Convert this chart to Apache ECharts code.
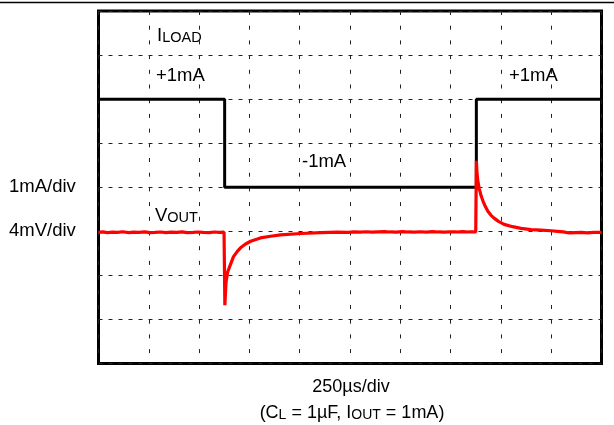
<!DOCTYPE html>
<html>
<head>
<meta charset="utf-8">
<script src="https://cdn.jsdelivr.net/npm/echarts@6/dist/echarts.min.js"></script>
<style>
html,body{margin:0;padding:0;background:#fff;}
#chart{width:614px;height:425px;}
</style>
</head>
<body>
<div id="chart"></div>
<script>
// Time base: 250 µs/div, 10 divisions
var xMin = 0, xMax = 2500, xStep = 250;
// I_LOAD channel: 1 mA/div
var iMin = -5, iMax = 3, iStep = 1;
// V_OUT channel: 4 mV/div (deviation from nominal)
var vMin = -12, vMax = 20, vStep = 4;

// I_LOAD trace (µs, mA)
var iTime = [0, 627, 627, 1878, 1878, 2500];
var iLoad = [1, 1, -1, -1, 1, 1];

// V_OUT trace (µs, mV deviation)
var vTime = [0, 20, 45, 70, 95, 120, 150, 175, 200, 230, 255, 280, 310, 335, 360, 390, 415, 440, 470, 495, 520, 550, 575, 600, 624,
  628, 630, 634, 642, 656, 671, 691, 706, 731, 756, 805, 855, 905, 1005, 1105, 1188, 1240, 1270, 1300, 1330,
  1360, 1390, 1420, 1450, 1480, 1510, 1540, 1570, 1600, 1630, 1660, 1690, 1720, 1750, 1780, 1810, 1840, 1875,
  1878, 1881, 1885, 1892, 1902, 1912, 1924, 1936, 1951, 1966, 1988, 2016, 2058, 2100, 2150, 2200, 2250,
  2280, 2310, 2340, 2370, 2400, 2430, 2460, 2500];
var vOut = [-0.1, -0.05, -0.12, -0.08, -0.1, -0.04, -0.12, -0.08, -0.1, -0.05, -0.12, -0.1, -0.06, -0.12, -0.08, -0.1, -0.05, -0.12, -0.1, -0.06, -0.1, -0.12, -0.06, -0.1, -0.08,
  -6.7, -6.6, -4.6, -3.7, -3.0, -2.3, -1.8, -1.5, -1.15, -0.9, -0.6, -0.45, -0.33, -0.2, -0.12, -0.08, -0.1, -0.05, -0.08,
  -0.04, -0.08, -0.05, -0.02, -0.06, -0.08, -0.03, -0.06, -0.08, -0.04, -0.07, -0.02, -0.06, -0.08, -0.04, -0.06, -0.03, -0.06, -0.05,
  6.4, 5.4, 4.6, 3.9, 3.2, 2.7, 2.2, 1.8, 1.45, 1.2, 0.9, 0.63, 0.42, 0.27, 0.15, 0.1, 0.05,
  0.0, -0.05, -0.15, -0.12, -0.1, -0.14, -0.1, -0.1];

var FONT = "'Liberation Sans', Arial, Helvetica, sans-serif";

function pairs(xs, ys) {
  var out = [];
  for (var k = 0; k < xs.length; k++) out.push([xs[k], ys[k]]);
  return out;
}

var chart = echarts.init(document.getElementById('chart'), null, {renderer: 'canvas'});

var txt = function (x, y, rich, text, align, size) {
  var fs = size || 18.5;
  return {
    type: 'text', x: x, y: y, z: 100,
    style: {
      text: text, rich: rich, fill: '#000',
      fontFamily: FONT, fontSize: fs,
      textAlign: align || 'left', textVerticalAlign: 'middle'
    }
  };
};

var richSub = {
  m: {fontSize: 18.5, fontFamily: FONT, lineHeight: 22, verticalAlign: 'bottom', fill: '#000'},
  s: {fontSize: 14.5, fontFamily: FONT, lineHeight: 15, verticalAlign: 'bottom', fill: '#000'}
};
var richSub2 = {
  m: {fontSize: 18, fontFamily: FONT, lineHeight: 22, verticalAlign: 'bottom', fill: '#000'},
  s: {fontSize: 14, fontFamily: FONT, lineHeight: 15, verticalAlign: 'bottom', fill: '#000'}
};

chart.setOption({
  animation: false,
  grid: {
    left: 98.5, right: 12.5, top: 11, bottom: 61.5,
    show: true, borderColor: '#000', borderWidth: 3, backgroundColor: 'transparent'
  },
  xAxis: {
    type: 'value', min: xMin, max: xMax, interval: xStep,
    axisLine: {show: false}, axisTick: {show: false}, axisLabel: {show: false},
    splitLine: {show: true, lineStyle: {color: '#222', width: 1, type: [4, 10.7]}}
  },
  yAxis: [{
    type: 'value', min: iMin, max: iMax, interval: iStep,
    axisLine: {show: false}, axisTick: {show: false}, axisLabel: {show: false},
    splitLine: {show: true, lineStyle: {color: '#222', width: 1, type: [4, 6]}}
  }, {
    type: 'value', min: vMin, max: vMax, interval: vStep,
    axisLine: {show: false}, axisTick: {show: false}, axisLabel: {show: false},
    splitLine: {show: false}
  }],
  series: [{
    name: 'ILOAD', type: 'line', yAxisIndex: 0, data: pairs(iTime, iLoad),
    showSymbol: false, symbol: 'none',
    lineStyle: {color: '#000', width: 3}, z: 3
  }, {
    name: 'VOUT', type: 'line', yAxisIndex: 1, data: pairs(vTime, vOut),
    showSymbol: false, symbol: 'none',
    lineStyle: {color: '#ff0000', width: 3.2}, z: 4
  }],
  graphic: [
    {type: 'line', shape: {x1: 0, y1: 2.5, x2: 614, y2: 2.5}, style: {stroke: '#000', lineWidth: 1.5}},
    txt(157, 34, richSub, '{m|I}{s|LOAD}'),
    txt(156, 76, null, '+1mA'),
    txt(509, 76, null, '+1mA'),
    txt(302, 162, null, '-1mA'),
    txt(155, 214, richSub, '{m|V}{s|OUT}'),
    txt(9, 187, null, '1mA/div'),
    txt(9, 231, null, '4mV/div'),
    txt(351, 387, null, '250µs/div', 'center', 18),
    txt(352, 411, richSub2, '{m|(C}{s|L}{m| = 1µF, I}{s|OUT}{m| = 1mA)}', 'center')
  ]
});
</script>
</body>
</html>
